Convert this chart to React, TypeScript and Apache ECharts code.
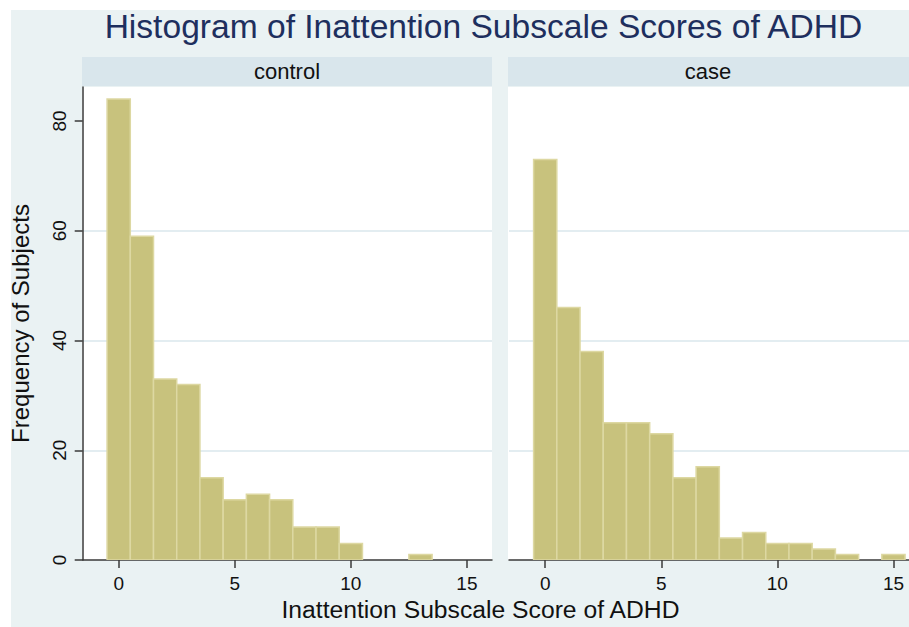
import React, { useEffect, useRef } from "react";
import * as echarts from "echarts";

const titleText = "Histogram of Inattention Subscale Scores of ADHD";
const panelNames = ["control", "case"];
const xTitle = "Inattention Subscale Score of ADHD";
const yTitle = "Frequency of Subjects";

const controlScores = [0, 1, 2, 3, 4, 5, 6, 7, 8, 9, 10, 13];
const controlCounts = [84, 59, 33, 32, 15, 11, 12, 11, 6, 6, 3, 1];

const caseScores = [0, 1, 2, 3, 4, 5, 6, 7, 8, 9, 10, 11, 12, 13, 15];
const caseCounts = [73, 46, 38, 25, 25, 23, 15, 17, 4, 5, 3, 3, 2, 1, 1];

const xTicks = [0, 5, 10, 15];
const yTicks = [0, 20, 40, 60, 80];

const FONT = "Liberation Sans, Arial, sans-serif";
const BAR_FILL = "#c8c27d";
const BAR_STROKE = "#ddd8a2";
const GRID_LINE = "#e3edf1";
const AXIS_COLOR = "#3a3a3a";

export default function App() {
  const ref = useRef<HTMLDivElement>(null);

  useEffect(() => {
    if (!ref.current) return;
    const chart = echarts.init(ref.current, undefined, { renderer: "svg" });

    const renderBar = (params: any, api: any) => {
      const x = api.value(0);
      const y = api.value(1);
      const p0 = api.coord([x - 0.5, y]);
      const p1 = api.coord([x + 0.5, 0]);
      return {
        type: "rect",
        shape: { x: p0[0], y: p0[1], width: p1[0] - p0[0], height: p1[1] - p0[1] },
        style: { fill: BAR_FILL, stroke: BAR_STROKE, lineWidth: 1.5 },
      };
    };

    const xAxisBase = (min: number, max: number, idx: number) => ({
      type: "value",
      gridIndex: idx,
      min,
      max,
      axisLine: { show: true, onZero: false, lineStyle: { color: AXIS_COLOR, width: 1.5 } },
      axisTick: {
        show: true,
        length: 8,
        customValues: xTicks,
        lineStyle: { color: AXIS_COLOR, width: 1.5 },
      },
      axisLabel: {
        show: true,
        customValues: xTicks,
        margin: 14,
        fontSize: 19,
        color: "#111",
        fontFamily: FONT,
      },
      splitLine: { show: false },
    });

    const yAxisBase = (idx: number, show: boolean) => ({
      type: "value",
      gridIndex: idx,
      min: 0,
      max: 86.2,
      interval: 20,
      name: show ? yTitle : "",
      nameLocation: "middle",
      nameGap: 50,
      nameTextStyle: { fontSize: 24, color: "#111", fontFamily: FONT },
      axisLine: { show: show, onZero: false, lineStyle: { color: AXIS_COLOR, width: 1.5 } },
      axisTick: {
        show: show,
        length: 8,
        customValues: yTicks,
        lineStyle: { color: AXIS_COLOR, width: 1.5 },
      },
      axisLabel: {
        show: show,
        customValues: yTicks,
        rotate: 90,
        margin: 14,
        fontSize: 19,
        color: "#111",
        fontFamily: FONT,
      },
      splitLine: {
        show: true,
        showMinLine: false,
        showMaxLine: false,
        lineStyle: { color: GRID_LINE, width: 2 },
      },
    });

    const option: any = {
      animation: false,
      backgroundColor: "#ffffff",
      textStyle: { fontFamily: FONT },
      graphic: [
        {
          type: "rect",
          z: -10,
          silent: true,
          shape: { x: 11, y: 10, width: 898, height: 617 },
          style: { fill: "#eaf2f3" },
        },
        {
          type: "rect",
          z: -5,
          silent: true,
          shape: { x: 82, y: 87, width: 410, height: 473 },
          style: { fill: "#ffffff" },
        },
        {
          type: "rect",
          z: -5,
          silent: true,
          shape: { x: 508, y: 87, width: 401, height: 473 },
          style: { fill: "#ffffff" },
        },
        {
          type: "rect",
          silent: true,
          shape: { x: 82, y: 57, width: 410, height: 29 },
          style: { fill: "#d9e6ec" },
        },
        {
          type: "rect",
          silent: true,
          shape: { x: 508, y: 57, width: 401, height: 29 },
          style: { fill: "#d9e6ec" },
        },
        {
          type: "text",
          x: 287,
          y: 71.5,
          style: {
            text: panelNames[0],
            fontSize: 22,
            fontFamily: FONT,
            fill: "#111",
            align: "center",
            verticalAlign: "middle",
          },
        },
        {
          type: "text",
          x: 708,
          y: 71.5,
          style: {
            text: panelNames[1],
            fontSize: 22,
            fontFamily: FONT,
            fill: "#111",
            align: "center",
            verticalAlign: "middle",
          },
        },
        {
          type: "text",
          x: 483.5,
          y: 26,
          style: {
            text: titleText,
            fontSize: 33.6,
            fontFamily: FONT,
            fill: "#1e2f5e",
            align: "center",
            verticalAlign: "middle",
          },
        },
        {
          type: "text",
          x: 480.5,
          y: 609,
          style: {
            text: xTitle,
            fontSize: 24.7,
            fontFamily: FONT,
            fill: "#111",
            align: "center",
            verticalAlign: "middle",
          },
        },
      ],
      grid: [
        { left: 82.7, top: 87, width: 409.3, height: 473, containLabel: false },
        { left: 509, top: 87, width: 400, height: 473, containLabel: false },
      ],
      xAxis: [xAxisBase(-1.55, 16.08, 0), xAxisBase(-1.56, 15.67, 1)],
      yAxis: [yAxisBase(0, true), yAxisBase(1, false)],
      series: [
        {
          type: "custom",
          name: panelNames[0],
          xAxisIndex: 0,
          yAxisIndex: 0,
          renderItem: renderBar,
          encode: { x: 0, y: 1 },
          data: controlScores.map((s, i) => [s, controlCounts[i]]),
          clip: true,
        },
        {
          type: "custom",
          name: panelNames[1],
          xAxisIndex: 1,
          yAxisIndex: 1,
          renderItem: renderBar,
          encode: { x: 0, y: 1 },
          data: caseScores.map((s, i) => [s, caseCounts[i]]),
          clip: true,
        },
      ],
    };

    chart.setOption(option);
    return () => chart.dispose();
  }, []);

  return (
    <div
      ref={ref}
      style={{ position: "fixed", left: 0, top: 0, width: 909, height: 627 }}
    />
  );
}
